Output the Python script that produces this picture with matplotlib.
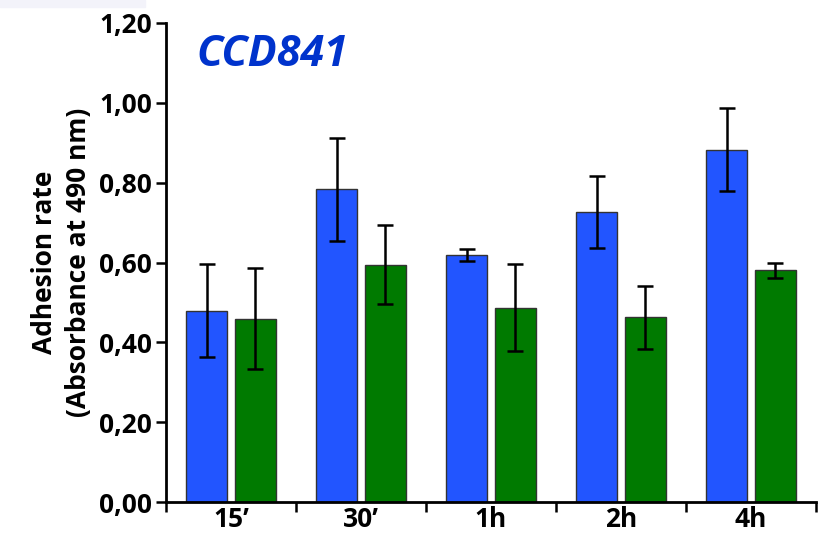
import matplotlib
matplotlib.use("Agg")
import matplotlib.pyplot as plt
import numpy as np
from matplotlib.patches import Rectangle

plt.rcParams['font.family'] = ['Open Sans', 'DejaVu Sans']

categories = ["15\u2019", "30\u2019", "1h", "2h", "4h"]
blue_vals = [0.479, 0.783, 0.619, 0.726, 0.883]
blue_err = [0.116, 0.128, 0.016, 0.090, 0.104]
green_vals = [0.459, 0.594, 0.487, 0.463, 0.580]
green_err = [0.126, 0.099, 0.108, 0.079, 0.019]
y_ticks = [0.0, 0.2, 0.4, 0.6, 0.8, 1.0, 1.2]
y_ticklabels = ["0,00", "0,20", "0,40", "0,60", "0,80", "1,00", "1,20"]

fig = plt.figure(figsize=(8.23, 5.37), dpi=100)
fig.patches.append(Rectangle((0, 1 - 7 / 537), 145 / 823, 7 / 537,
                             transform=fig.transFigure, color="#f3f3fa",
                             zorder=0))
ax = fig.add_axes([166 / 823, 1 - 502 / 537, 650 / 823, 479 / 537])

x = np.arange(len(categories))
w = 0.315
off = 0.185
ekw = dict(elinewidth=1.8, capthick=1.8, ecolor="black")
ax.bar(x - off, blue_vals, w, color="#2255ff", edgecolor="#333333",
       linewidth=1.0, yerr=blue_err, capsize=6, error_kw=ekw, zorder=2)
ax.bar(x + off, green_vals, w, color="#007a00", edgecolor="#333333",
       linewidth=1.0, yerr=green_err, capsize=6, error_kw=ekw, zorder=2)

ax.set_xlim(-0.5, len(categories) - 0.5)
ax.set_ylim(0, 1.2)

ax.set_yticks(y_ticks)
ax.set_yticklabels(y_ticklabels, fontsize=19, fontweight="bold")
ax.set_xticks(np.arange(len(categories) + 1) - 0.5)
ax.set_xticklabels([])
ax.set_xticks(x, minor=True)
ax.set_xticklabels(categories, minor=True, fontsize=19, fontweight="bold")
ax.tick_params(axis="x", which="major", length=7, width=1.8, direction="out")
ax.tick_params(axis="x", which="minor", length=0, pad=3)
ax.tick_params(axis="y", length=7, width=1.8, direction="out", pad=3)

for s in ["top", "right"]:
    ax.spines[s].set_visible(False)
for s in ["left", "bottom"]:
    ax.spines[s].set_linewidth(2.0)

ax.set_ylabel("Adhesion rate\n(Absorbance at 490 nm)", fontsize=19,
              fontweight="bold", labelpad=5, linespacing=1.35)

fig.text(272 / 823, 1 - 55 / 537, "CCD841", color="#0033cc", fontsize=31,
         fontweight="bold", fontstyle="italic", ha="center", va="center")

fig.savefig("out.png", dpi=100)
